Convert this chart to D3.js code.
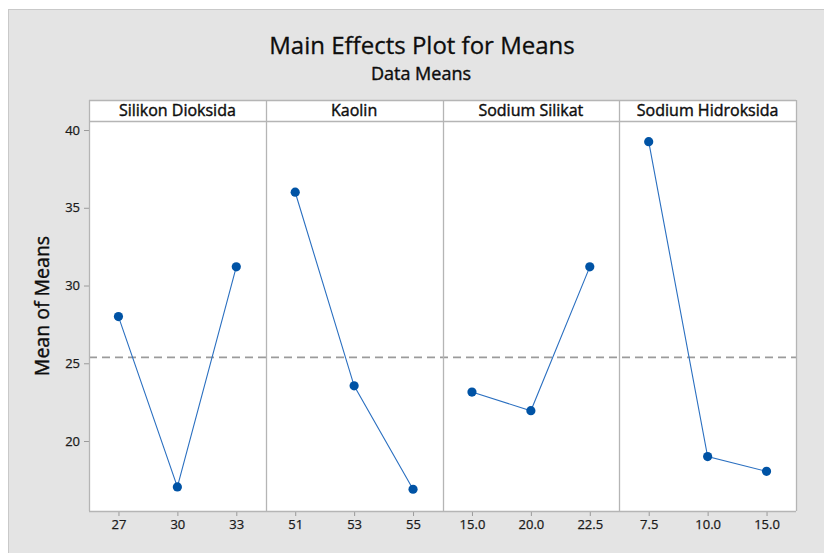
<!DOCTYPE html>
<html>
<head>
<meta charset="utf-8">
<script src="https://cdn.jsdelivr.net/npm/d3@7"></script>
<style>
  html, body { margin: 0; padding: 0; background: #ffffff; }
  svg { display: block; }
  text { font-family: "Open Sans", "Noto Sans", sans-serif; }
</style>
</head>
<body>
<script>
// ---- data ----
const factors = ["Silikon Dioksida", "Kaolin", "Sodium Silikat", "Sodium Hidroksida"];
const levelsSilikon = ["27", "30", "33"];
const levelsKaolin = ["51", "53", "55"];
const levelsSilikat = ["15.0", "20.0", "22.5"];
const levelsHidroksida = ["7.5", "10.0", "15.0"];
const meansSilikon = [28.0, 17.05, 31.2];
const meansKaolin = [36.0, 23.55, 16.9];
const meansSilikat = [23.15, 21.95, 31.2];
const meansHidroksida = [39.25, 19.0, 18.05];
const grandMean = 25.38;
const yTicks = [20, 25, 30, 35, 40];

const levels = [levelsSilikon, levelsKaolin, levelsSilikat, levelsHidroksida];
const means = [meansSilikon, meansKaolin, meansSilikat, meansHidroksida];

// ---- layout ----
const W = 824, H = 553;
const plotL = 89, plotR = 796, plotT = 121, plotB = 511, headerT = 100;
const panelW = (plotR - plotL) / factors.length;
const ink = "#0d0d0d";

const svg = d3.select("body").append("svg").attr("width", W).attr("height", H);

svg.append("rect").attr("x", 8.5).attr("y", 9.5).attr("width", W - 8).attr("height", H - 9)
  .attr("fill", "#e4e4e4").attr("stroke", "#c9c9c9").attr("stroke-width", 1);

svg.append("text").attr("x", 422).attr("y", 54).attr("text-anchor", "middle")
  .attr("font-size", 24).attr("fill", ink).attr("stroke", ink).attr("stroke-width", 0.3)
  .text("Main Effects Plot for Means");
svg.append("text").attr("x", 421).attr("y", 80).attr("text-anchor", "middle")
  .attr("font-size", 18).attr("fill", ink).attr("stroke", ink).attr("stroke-width", 0.4)
  .text("Data Means");

const y = d3.scaleLinear().domain([15.5, 40.58]).range([plotB, plotT]);

svg.append("text")
  .attr("transform", `translate(49, ${(plotT + plotB) / 2 - 10}) rotate(-90)`)
  .attr("text-anchor", "middle").attr("font-size", 19.5).attr("fill", ink)
  .attr("stroke", ink).attr("stroke-width", 0.4)
  .text("Mean of Means");

// plot area white
svg.append("rect").attr("x", plotL).attr("y", headerT).attr("width", plotR - plotL)
  .attr("height", plotB - headerT).attr("fill", "#fff");

// y axis
const yAxis = svg.append("g").attr("transform", `translate(${plotL},0)`)
  .call(d3.axisLeft(y).tickValues(yTicks).tickSize(5).tickPadding(4));
yAxis.select(".domain").remove();
yAxis.selectAll("line").attr("stroke", "#9a9a9a");
yAxis.selectAll("text").attr("font-size", 13).attr("fill", "#1a1a1a")
  .attr("stroke", "#1a1a1a").attr("stroke-width", 0.25)
  .style("font-family", '"Open Sans", sans-serif');

// grand mean reference line
svg.append("line").attr("x1", plotL).attr("x2", plotR)
  .attr("y1", y(grandMean)).attr("y2", y(grandMean))
  .attr("stroke", "#9b9b9b").attr("stroke-width", 1.6).attr("stroke-dasharray", "8,5");

factors.forEach((f, i) => {
  const x0 = plotL + i * panelW;
  const x = d3.scalePoint().domain(levels[i]).range([x0, x0 + panelW]).padding(0.5);

  // x axis
  const xa = svg.append("g").attr("transform", `translate(0,${plotB})`)
    .call(d3.axisBottom(x).tickSize(5).tickPadding(4));
  xa.select(".domain").remove();
  xa.selectAll("line").attr("stroke", "#9a9a9a");
  xa.selectAll("text").attr("font-size", 13).attr("fill", "#1a1a1a")
    .attr("stroke", "#1a1a1a").attr("stroke-width", 0.25)
    .style("font-family", '"Open Sans", sans-serif');

  // header
  svg.append("text").attr("x", x0 + panelW / 2).attr("y", 115.5).attr("text-anchor", "middle")
    .attr("font-size", 16).attr("fill", ink).attr("stroke", ink).attr("stroke-width", 0.4).text(f);

  const pts = levels[i].map((l, j) => [x(l), y(means[i][j])]);
  svg.append("path").attr("d", d3.line()(pts)).attr("fill", "none")
    .attr("stroke", "#2a6fc0").attr("stroke-width", 1.1);
  svg.selectAll(null).data(pts).enter().append("circle")
    .attr("cx", d => d[0]).attr("cy", d => d[1]).attr("r", 4.6)
    .attr("fill", "#0053a5");
});

// panel borders
for (let i = 0; i <= factors.length; i++) {
  const xx = Math.round(plotL + i * panelW) + 0.5;
  svg.append("line").attr("x1", xx).attr("x2", xx).attr("y1", headerT).attr("y2", plotB)
    .attr("stroke", "#b5b5b5").attr("stroke-width", 1.3);
}
[headerT, plotT, plotB].forEach(yy => {
  svg.append("line").attr("x1", plotL).attr("x2", plotR).attr("y1", yy + 0.5).attr("y2", yy + 0.5)
    .attr("stroke", "#b5b5b5").attr("stroke-width", 1.3);
});
</script>
</body>
</html>
